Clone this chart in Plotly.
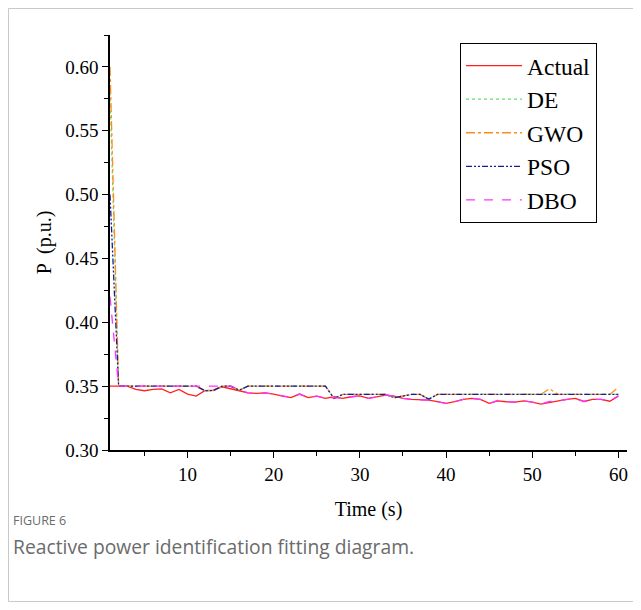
import plotly.graph_objects as go

# Time axis (s)
time = list(range(1, 61))

actual = [0.3500, 0.3500, 0.3500, 0.3474, 0.3464, 0.3474, 0.3479, 0.3448, 0.3474, 0.3438,
          0.3422, 0.3464, 0.3469, 0.3495, 0.3482, 0.3464, 0.3448, 0.3443, 0.3448, 0.3438,
          0.3422, 0.3411, 0.3438, 0.3411, 0.3422, 0.3404, 0.3417, 0.3404, 0.3417, 0.3424,
          0.3404, 0.3417, 0.3430, 0.3422, 0.3404, 0.3396, 0.3391, 0.3391, 0.3378, 0.3365,
          0.3378, 0.3396, 0.3404, 0.3396, 0.3365, 0.3385, 0.3378, 0.3375, 0.3385, 0.3375,
          0.3359, 0.3372, 0.3385, 0.3396, 0.3404, 0.3380, 0.3396, 0.3396, 0.3382, 0.3422]

de = [0.580, 0.350, 0.350, 0.350, 0.350, 0.350, 0.350, 0.350, 0.350, 0.350,
      0.350, 0.3465, 0.3465, 0.350, 0.350, 0.3468, 0.350, 0.350, 0.350, 0.350,
      0.350, 0.350, 0.350, 0.350, 0.350, 0.350, 0.3404, 0.3435, 0.3435, 0.3435,
      0.3435, 0.3435, 0.3435, 0.3410, 0.3425, 0.3435, 0.3435, 0.3398, 0.3435, 0.3435,
      0.3435, 0.3435, 0.3435, 0.3435, 0.3435, 0.3435, 0.3435, 0.3435, 0.3435, 0.3435,
      0.3435, 0.3435, 0.3435, 0.3435, 0.3435, 0.3435, 0.3435, 0.3435, 0.3435, 0.3435]

gwo = [0.600, 0.350, 0.350, 0.350, 0.350, 0.350, 0.350, 0.350, 0.350, 0.350,
       0.350, 0.3465, 0.3465, 0.350, 0.350, 0.3468, 0.350, 0.350, 0.350, 0.350,
       0.350, 0.350, 0.350, 0.350, 0.350, 0.350, 0.3404, 0.3435, 0.3435, 0.3435,
       0.3435, 0.3435, 0.3435, 0.3410, 0.3425, 0.3435, 0.3435, 0.3398, 0.3435, 0.3435,
       0.3435, 0.3435, 0.3435, 0.3435, 0.3435, 0.3435, 0.3435, 0.3435, 0.3435, 0.3435,
       0.3435, 0.3480, 0.3435, 0.3435, 0.3435, 0.3435, 0.3435, 0.3435, 0.3435, 0.3490]

pso = [0.500, 0.350, 0.350, 0.350, 0.350, 0.350, 0.350, 0.350, 0.350, 0.350,
       0.350, 0.3465, 0.3465, 0.350, 0.350, 0.3468, 0.350, 0.350, 0.350, 0.350,
       0.350, 0.350, 0.350, 0.350, 0.350, 0.350, 0.3404, 0.3435, 0.3435, 0.3435,
       0.3435, 0.3435, 0.3435, 0.3410, 0.3425, 0.3435, 0.3435, 0.3398, 0.3435, 0.3435,
       0.3435, 0.3435, 0.3435, 0.3435, 0.3435, 0.3435, 0.3435, 0.3435, 0.3435, 0.3435,
       0.3435, 0.3435, 0.3435, 0.3435, 0.3435, 0.3435, 0.3435, 0.3435, 0.3435, 0.3435]

dbo = [0.420, 0.350, 0.350, 0.350, 0.350, 0.350, 0.350, 0.350, 0.350, 0.350,
       0.350, 0.350, 0.350, 0.350, 0.350, 0.3474, 0.3448, 0.3443, 0.3448, 0.3438,
       0.3422, 0.3411, 0.3438, 0.3411, 0.3422, 0.3404, 0.3410, 0.3404, 0.3417, 0.3424,
       0.3404, 0.3417, 0.3430, 0.3422, 0.3404, 0.3396, 0.3391, 0.3391, 0.3378, 0.3365,
       0.3378, 0.3396, 0.3404, 0.3396, 0.3365, 0.3388, 0.3380, 0.3375, 0.3385, 0.3375,
       0.3359, 0.3380, 0.3385, 0.3396, 0.3404, 0.3380, 0.3396, 0.3396, 0.3382, 0.3425]

series_names = ["Actual", "DE", "GWO", "PSO", "DBO"]
series_values = [actual, de, gwo, pso, dbo]
series_colors = ["#FF2020", "#66E066", "#FF8C1A", "#1A1A9A", "#FF33FF"]
series_dash = ["solid", "dot", "dashdot", "6px,2px,2px,2px,2px,2px", "dash"]

fig = go.Figure()
for name, vals, col, dash in zip(series_names, series_values, series_colors, series_dash):
    fig.add_trace(go.Scatter(x=time, y=vals, mode="lines", name=name,
                             line=dict(color=col, width=1.3, dash=dash)))

serif = "Liberation Serif, Times New Roman, serif"
sans = "Open Sans, Noto Sans, sans-serif"

# page body has an 8px margin: figure is sized to fit inside the 641x610 window
fig.update_layout(
    width=625, height=594,
    margin=dict(l=102, r=6, t=27, b=152),
    paper_bgcolor="white", plot_bgcolor="white",
    showlegend=True,
    font=dict(family=serif, color="black", size=19),
    legend=dict(x=0.677, y=0.981, xanchor="left", yanchor="top",
                bordercolor="black", borderwidth=1, bgcolor="white",
                font=dict(family=serif, size=23.5, color="black"),
                itemwidth=56, tracegroupgap=0),
    xaxis=dict(range=[1, 61], showgrid=False, zeroline=False,
               showline=True, linecolor="black", linewidth=1.5,
               ticks="outside", ticklen=6, tickwidth=1.3, tickcolor="black",
               tick0=0, dtick=10,
               minor=dict(dtick=5, tick0=0, ticks="outside", ticklen=4, tickcolor="black"),
               tickfont=dict(family=serif, size=19),
               title=dict(text="Time (s)", font=dict(family=serif, size=20), standoff=18)),
    yaxis=dict(range=[0.30, 0.625], showgrid=False, zeroline=False,
               showline=True, linecolor="black", linewidth=1.5,
               ticks="outside", ticklen=6, tickwidth=1.3, tickcolor="black",
               tick0=0.30, dtick=0.05, tickformat=".2f",
               minor=dict(dtick=0.025, tick0=0.30, ticks="outside", ticklen=4, tickcolor="black"),
               tickfont=dict(family=serif, size=19),
               title=dict(text="P  (p.u.)", font=dict(family=serif, size=20), standoff=8)),
)

# outer journal frame
fig.add_shape(type="rect", xref="paper", yref="paper",
              x0=-0.1963, x1=1.05, y0=-0.365, y1=1.0639,
              line=dict(color="#c8c8c8", width=1), fillcolor="rgba(0,0,0,0)", layer="below")

fig.add_annotation(xref="paper", yref="paper", x=-0.1915, y=-0.170,
                   xanchor="left", yanchor="middle", showarrow=False,
                   text="FIGURE 6",
                   font=dict(family=sans, size=12.5, color="#6b6b6b"))
fig.add_annotation(xref="paper", yref="paper", x=-0.1915, y=-0.2325,
                   xanchor="left", yanchor="middle", showarrow=False,
                   text="Reactive power identification fitting diagram.",
                   font=dict(family=sans, size=19.3, color="#6b6b6b"))

fig.write_html("out.html")
